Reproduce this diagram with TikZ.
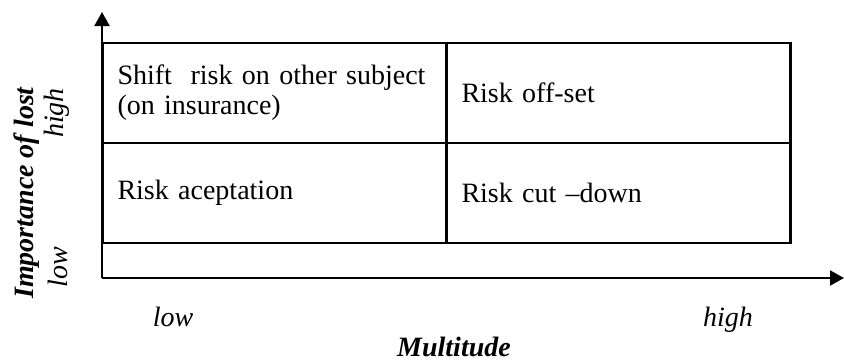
\documentclass[tikz,border=0pt]{standalone}
\usepackage{fontspec}
\setmainfont{Liberation Serif}
\usetikzlibrary{positioning,arrows.meta}

\newcommand{\picsize}{\fontsize{14}{15}\selectfont}

\tikzset{
  cell/.style={draw, rectangle, line width=1.2pt, minimum width=172pt, minimum height=50pt,
    text width=157pt, inner xsep=7.5pt, align=left, outer sep=0pt, font=\picsize},
  axis/.style={line width=1pt, -{Triangle[length=7pt, width=7.5pt]}},
  scale label/.style={font=\picsize\itshape},
  axis title/.style={font=\picsize\bfseries\itshape}
}

\begin{document}
\begin{tikzpicture}[x=0.5pt, y=-0.5pt]
\useasboundingbox (0,0) rectangle (844,361);

% the four strategies
\node (shift) [cell] at (274.5,93) {Shift\ \ risk on other subject\\(on insurance)};
\node (offset) [cell, right=0pt of shift] {Risk off-set};
\node (accept) [cell, below=0pt of shift] {Risk aceptation};
\node (cutdown) [cell, right=0pt of accept] {Risk cut \textendash down};

% axes
\coordinate (origin) at (102,278);
\coordinate (ytop) at (102,12);
\coordinate (xend) at (844,278);
\draw[axis] (origin) -- (ytop);
\draw[axis] (origin) -- (xend);

% horizontal scale and title
\node (xlow) [scale label, anchor=base] at (173,326) {low};
\node (xhigh) [scale label, anchor=base] at (728,326) {high};
\node (multitude) [axis title, anchor=base] at (454,356) {Multitude};

% vertical scale and title
\node (ylow) [scale label, rotate=90, anchor=base] at (67,267) {low};
\node (yhigh) [scale label, rotate=90, anchor=base] at (63,113) {high};
\node (importance) [axis title, rotate=90, anchor=base] at (33,193) {Importance of lost};
\end{tikzpicture}
\end{document}
